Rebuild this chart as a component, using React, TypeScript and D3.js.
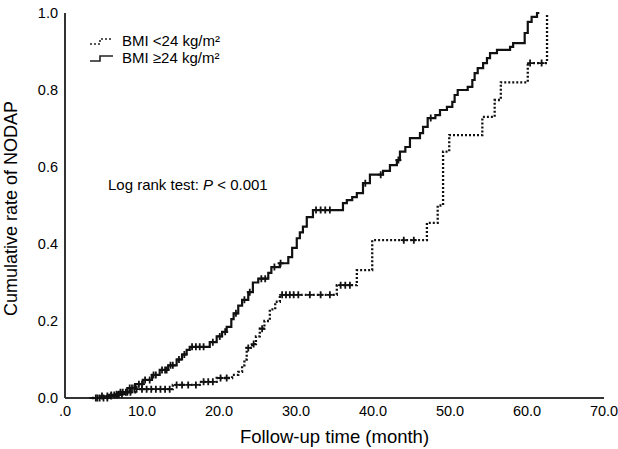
import { useEffect, useRef } from "react";
import * as d3 from "d3";

// BMI >= 24 kg/m2 (solid) : event times (month) and cumulative rate
const highTimes = [3.2, 5.8, 7.1, 8.1, 9.1, 10.1, 11.3, 12.3, 13.4, 14.5, 15.2, 15.8, 16.2, 18.8, 19.7, 20.4, 21.0, 21.6, 21.9, 22.5, 23.0, 23.8, 24.4, 25.1, 26.4, 26.8, 27.9, 29.0, 29.5, 30.1, 30.5, 30.9, 31.4, 32.2, 36.1, 36.6, 37.3, 37.9, 38.7, 39.6, 41.3, 42.2, 43.1, 43.5, 44.2, 44.8, 46.1, 46.5, 47.1, 48.1, 48.7, 49.6, 50.3, 50.6, 51.0, 52.3, 52.9, 53.2, 53.6, 54.3, 54.8, 55.2, 56.1, 57.8, 58.2, 59.7, 60.1, 60.6, 61.3];
const highRates = [0, 0.008, 0.015, 0.026, 0.036, 0.047, 0.06, 0.073, 0.085, 0.1, 0.113, 0.125, 0.133, 0.145, 0.16, 0.172, 0.185, 0.205, 0.22, 0.24, 0.255, 0.275, 0.3, 0.31, 0.325, 0.34, 0.35, 0.366, 0.39, 0.415, 0.43, 0.445, 0.47, 0.488, 0.506, 0.514, 0.522, 0.532, 0.558, 0.58, 0.59, 0.605, 0.618, 0.64, 0.652, 0.675, 0.688, 0.704, 0.727, 0.735, 0.748, 0.756, 0.769, 0.787, 0.8, 0.808, 0.826, 0.844, 0.857, 0.87, 0.883, 0.896, 0.904, 0.912, 0.922, 0.948, 0.977, 0.99, 1.0];
const highEnd = 61.6;
const highCensored = [4, 4.5, 5, 5.5, 6, 6.4, 6.8, 7.2, 7.5, 7.9, 8.4, 8.7, 9, 9.6, 10, 10.4, 11, 11.5, 11.8, 12.6, 13, 13.2, 13.7, 14, 14.8, 15.5, 16.5, 17, 17.5, 18, 19.2, 20.1, 20.8, 22.2, 23.3, 24, 25.5, 26, 27.2, 28, 32.6, 33.2, 33.8, 34.4, 39, 41, 43.3, 47.5];

// BMI < 24 kg/m2 (dotted)
const lowTimes = [3.5, 4.5, 6.5, 7.8, 9.1, 14.0, 17.5, 19.7, 21.7, 22.5, 23.0, 23.3, 23.6, 24.3, 24.8, 25.3, 25.9, 26.6, 27.3, 27.9, 35.3, 37.9, 39.9, 47.0, 48.4, 49.1, 49.9, 54.2, 55.8, 56.6, 60.1];
const lowRates = [0, 0.005, 0.01, 0.015, 0.023, 0.034, 0.042, 0.052, 0.06, 0.068, 0.085, 0.1, 0.13, 0.14, 0.16, 0.18, 0.2, 0.23, 0.25, 0.268, 0.293, 0.332, 0.41, 0.455, 0.5, 0.64, 0.683, 0.73, 0.774, 0.82, 0.87];
const lowEnd = 62.6;
const lowFinal = 1.0;
const lowCensored = [4.2, 4.8, 5.5, 6, 6.7, 7, 7.4, 8.1, 8.5, 9.3, 10, 10.6, 11.2, 11.8, 12.4, 13, 13.6, 14.5, 15.2, 16, 17, 18, 18.6, 19.2, 20.2, 21, 23.8, 24.5, 25.6, 28.2, 28.7, 29.2, 29.7, 30.3, 31.8, 33.2, 34.4, 35.8, 36.4, 37, 44, 45.3, 60.4, 61.9];

const xTicks = [0, 10, 20, 30, 40, 50, 60, 70];
const yTicks = [0, 0.2, 0.4, 0.6, 0.8, 1.0];

const W = 618;
const H = 449;
const margin = { top: 13, right: 14, bottom: 51, left: 65 };

const stepAt = (times: number[], rates: number[], t: number) => {
  let v = 0;
  for (let i = 0; i < times.length; i++) if (times[i] <= t) v = rates[i];
  return v;
};

const App = () => {
  const svgRef = useRef<SVGSVGElement>(null);

  useEffect(() => {
    const svg = d3.select(svgRef.current);
    svg.selectAll("*").remove();
    const font = "'Liberation Sans', Arial, sans-serif";

    const x = d3.scaleLinear().domain([0, 70]).range([margin.left, W - margin.right]);
    const y = d3.scaleLinear().domain([0, 1]).range([H - margin.bottom, margin.top]);

    const line = d3
      .line<[number, number]>()
      .x((d) => x(d[0]))
      .y((d) => y(d[1]))
      .curve(d3.curveStepAfter);

    const lowPts: [number, number][] = lowTimes.map((t, i) => [t, lowRates[i]]);
    lowPts.push([lowEnd, lowFinal]);
    const highPts: [number, number][] = highTimes.map((t, i) => [t, highRates[i]]);
    highPts.push([highEnd, highRates[highRates.length - 1]]);

    // axes
    svg
      .append("line")
      .attr("x1", x(0))
      .attr("x2", x(70))
      .attr("y1", y(0))
      .attr("y2", y(0))
      .attr("stroke", "#333")
      .attr("stroke-width", 2);
    svg
      .append("line")
      .attr("x1", x(0))
      .attr("x2", x(0))
      .attr("y1", y(0))
      .attr("y2", y(1))
      .attr("stroke", "#333")
      .attr("stroke-width", 2);

    svg
      .append("g")
      .selectAll("text")
      .data(xTicks)
      .enter()
      .append("text")
      .attr("x", (d) => x(d))
      .attr("y", y(0) + 18)
      .attr("text-anchor", "middle")
      .attr("font-family", font)
      .attr("font-size", 14.5)
      .text((d) => (d === 0 ? ".0" : d.toFixed(1)));

    svg
      .append("g")
      .selectAll("text")
      .data(yTicks)
      .enter()
      .append("text")
      .attr("x", x(0) - 7)
      .attr("y", (d) => y(d) + 5)
      .attr("text-anchor", "end")
      .attr("font-family", font)
      .attr("font-size", 14.5)
      .text((d) => d.toFixed(1));

    svg
      .append("text")
      .attr("transform", `translate(17, ${(y(0) + y(1)) / 2 + 3}) rotate(-90)`)
      .attr("text-anchor", "middle")
      .attr("font-family", font)
      .attr("font-size", 18)
      .text("Cumulative rate of NODAP");

    svg
      .append("text")
      .attr("x", (x(0) + x(70)) / 2)
      .attr("y", H - 6)
      .attr("text-anchor", "middle")
      .attr("font-family", font)
      .attr("font-size", 18.5)
      .text("Follow-up time (month)");

    // curves
    svg
      .append("path")
      .attr("d", line(lowPts))
      .attr("fill", "none")
      .attr("stroke", "#111")
      .attr("stroke-width", 2.3)
      .attr("stroke-dasharray", "2,2");
    svg
      .append("path")
      .attr("d", line(highPts))
      .attr("fill", "none")
      .attr("stroke", "#111")
      .attr("stroke-width", 2.2);

    const cross = (g: d3.Selection<SVGGElement, unknown, null, undefined>, pts: [number, number][]) => {
      g.selectAll("path")
        .data(pts)
        .enter()
        .append("path")
        .attr("d", (d) => {
          const cx = x(d[0]);
          const cy = y(d[1]);
          return `M${cx - 3},${cy}H${cx + 3}M${cx},${cy - 3.5}V${cy + 3.5}`;
        })
        .attr("stroke", "#111")
        .attr("stroke-width", 1.8);
    };
    cross(
      svg.append("g"),
      lowCensored.map((t) => [t, stepAt(lowTimes, lowRates, t)])
    );
    cross(
      svg.append("g"),
      highCensored.map((t) => [t, stepAt(highTimes, highRates, t)])
    );

    // legend
    const leg = svg.append("g").attr("font-family", font).attr("font-size", 15);
    const glyph = (yy: number, dash: string | null) => {
      const p = leg
        .append("path")
        .attr("d", `M90,${yy + 3}H100V${yy - 2}H113`)
        .attr("fill", "none")
        .attr("stroke", "#222")
        .attr("stroke-width", 1.6);
      if (dash) p.attr("stroke-dasharray", dash);
    };
    glyph(41, "2,2");
    glyph(58, null);
    leg.append("text").attr("x", 122).attr("y", 46).text("BMI <24 kg/m²");
    leg.append("text").attr("x", 122).attr("y", 63).text("BMI ≥24 kg/m²");

    const lr = svg
      .append("text")
      .attr("x", 108)
      .attr("y", 190)
      .attr("font-family", font)
      .attr("font-size", 15);
    lr.append("tspan").text("Log rank test: ");
    lr.append("tspan").attr("font-style", "italic").text("P");
    lr.append("tspan").text(" < 0.001");
  }, []);

  return (
    <svg
      ref={svgRef}
      width={W}
      height={H}
      style={{ position: "absolute", left: 0, top: 0, background: "#fff" }}
    ></svg>
  );
};

export default App;
